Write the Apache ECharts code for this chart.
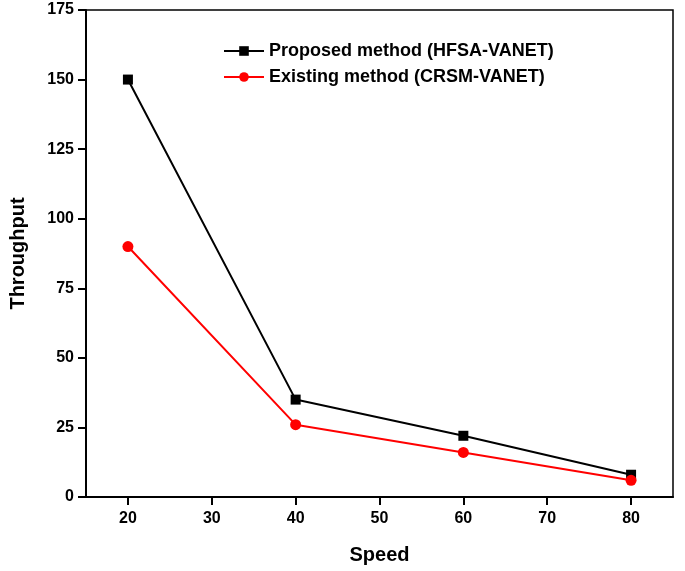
<!DOCTYPE html>
<html><head><meta charset="utf-8">
<script src="https://cdn.jsdelivr.net/npm/echarts@6/dist/echarts.min.js"></script>
<style>body{margin:0}#c{width:685px;height:571px}</style></head>
<body><div id="c"></div>
<script>
const speeds = [20, 40, 60, 80];
const proposed = [150, 35, 22, 8];
const existing = [90, 26, 16, 6];
const xTicks = [20, 30, 40, 50, 60, 70, 80];
const seriesNames = ['Proposed method (HFSA-VANET)', 'Existing method (CRSM-VANET)'];
const font = 'Liberation Sans, Arial, sans-serif';
const chart = echarts.init(document.getElementById('c'));
const axisLine = {show: true, lineStyle: {color: '#000', width: 2}};
const axisTick = {show: true, inside: false, length: 8, lineStyle: {color: '#000', width: 2}};
const labelStyle = {color: '#000', fontSize: 16, fontWeight: 'bold', fontFamily: font};
const nameStyle = {color: '#000', fontSize: 20, fontWeight: 'bold', fontFamily: font};
chart.setOption({
  animation: false,
  grid: {left: 80, right: 12, top: 10, bottom: 74, show: true, borderColor: '#000', borderWidth: 1.5},
  legend: {
    orient: 'vertical', left: 218, top: 37, itemGap: 8, itemWidth: 40, itemHeight: 12,
    textStyle: {color: '#000', fontSize: 18, fontWeight: 'bold', fontFamily: font},
    data: seriesNames
  },
  xAxis: {type: 'value', min: 15, max: 85, name: 'Speed', nameLocation: 'middle', nameGap: 48,
    axisLine, axisTick: Object.assign({customValues: xTicks}, axisTick),
    axisLabel: Object.assign({customValues: xTicks, margin: 14}, labelStyle),
    splitLine: {show: false}, nameTextStyle: nameStyle},
  yAxis: {type: 'value', min: 0, max: 175, interval: 25, name: 'Throughput', nameLocation: 'middle', nameGap: 58,
    axisLine, axisTick, axisLabel: Object.assign({margin: 12}, labelStyle),
    splitLine: {show: false}, nameTextStyle: nameStyle},
  series: [
    {name: seriesNames[0], type: 'line', data: speeds.map((s, i) => [s, proposed[i]]), symbol: 'rect', symbolSize: 10,
     itemStyle: {color: '#000'}, lineStyle: {color: '#000', width: 2}},
    {name: seriesNames[1], type: 'line', data: speeds.map((s, i) => [s, existing[i]]), symbol: 'circle', symbolSize: 11,
     itemStyle: {color: '#ff0000'}, lineStyle: {color: '#ff0000', width: 2}}
  ]
});
</script></body></html>
